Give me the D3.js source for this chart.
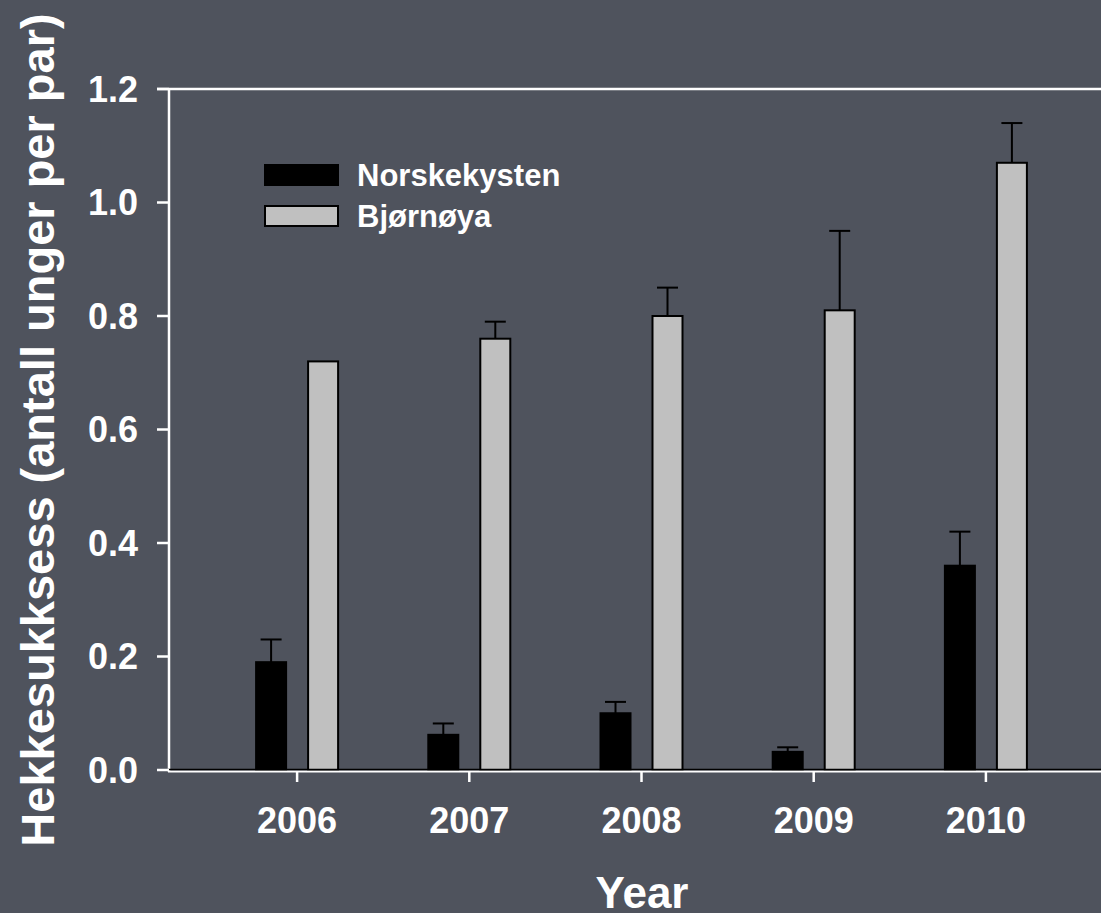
<!DOCTYPE html>
<html>
<head>
<meta charset="utf-8">
<script src="https://cdn.jsdelivr.net/npm/d3@7"></script>
<style>
  html, body { margin: 0; padding: 0; background: #4f535d; }
  svg { display: block; font-family: "Liberation Sans", Arial, sans-serif; font-weight: bold; }
</style>
</head>
<body>
<svg id="chart" width="1101" height="913"></svg>
<script>
var years = ["2006", "2007", "2008", "2009", "2010"];
var seriesNames = ["Norskekysten", "Bjørnøya"];
var norskekysten = [0.19, 0.062, 0.10, 0.032, 0.36];
var norskekystenErr = [0.04, 0.02, 0.02, 0.008, 0.06];
var bjornoya = [0.72, 0.76, 0.80, 0.81, 1.07];
var bjornoyaErr = [0, 0.03, 0.05, 0.14, 0.07];
var yTicks = [0, 0.2, 0.4, 0.6, 0.8, 1.0, 1.2];
var fills = ["#000000", "#c0c0c0"];

var svg = d3.select("#chart");
var W = 1101, H = 913;

var x = d3.scaleBand().domain(years).range([211, 1072]).padding(0);
var xInner = d3.scaleBand().domain(seriesNames).range([-42, 42]).paddingInner(20 / 52).paddingOuter(0);
var y = d3.scaleLinear().domain([0, 1.2]).range([770, 89]);

var rows = [];
years.forEach(function (yr, i) {
  rows.push({ year: yr, s: seriesNames[0], v: norskekysten[i], e: norskekystenErr[i], fill: fills[0] });
  rows.push({ year: yr, s: seriesNames[1], v: bjornoya[i], e: bjornoyaErr[i], fill: fills[1] });
});

function cx(d) { return x(d.year) + x.bandwidth() / 2 + xInner(d.s) + xInner.bandwidth() / 2; }

// error bars (upper only)
var eb = svg.append("g").attr("stroke", "#000").attr("stroke-width", 2);
rows.filter(function (d) { return d.e > 0; }).forEach(function (d) {
  eb.append("line").attr("x1", cx(d)).attr("x2", cx(d)).attr("y1", y(d.v)).attr("y2", y(d.v + d.e));
  eb.append("line").attr("x1", cx(d) - 10.5).attr("x2", cx(d) + 10.5).attr("y1", y(d.v + d.e)).attr("y2", y(d.v + d.e));
});

// bars
svg.append("g").selectAll("rect").data(rows).join("rect")
  .attr("x", function (d) { return cx(d) - xInner.bandwidth() / 2 + 1; })
  .attr("width", xInner.bandwidth() - 2)
  .attr("y", function (d) { return y(d.v); })
  .attr("height", function (d) { return y(0) - y(d.v); })
  .attr("fill", function (d) { return d.fill; })
  .attr("stroke", "#000").attr("stroke-width", 2);

// axes frame
svg.append("line").attr("x1", 157).attr("x2", W).attr("y1", y(1.2)).attr("y2", y(1.2))
  .attr("stroke", "#fff").attr("stroke-width", 2.5);
svg.append("line").attr("x1", 169).attr("x2", 169).attr("y1", y(1.2)).attr("y2", 772)
  .attr("stroke", "#fff").attr("stroke-width", 2.5);
svg.append("line").attr("x1", 168).attr("x2", W).attr("y1", 771.5).attr("y2", 771.5)
  .attr("stroke", "#fff").attr("stroke-width", 2);
svg.append("line").attr("x1", 168).attr("x2", W).attr("y1", 769.5).attr("y2", 769.5)
  .attr("stroke", "#000").attr("stroke-width", 1.5);

// y axis ticks + labels
var yg = svg.append("g");
yTicks.forEach(function (t) {
  yg.append("line").attr("x1", 157).attr("x2", 169).attr("y1", y(t)).attr("y2", y(t))
    .attr("stroke", "#fff").attr("stroke-width", 2.5);
  yg.append("text").attr("x", 138).attr("y", y(t)).attr("dy", "0.36em")
    .attr("text-anchor", "end").attr("fill", "#fff").attr("font-size", 36)
    .text(d3.format(".1f")(t));
});

// x axis ticks + labels
var xg = svg.append("g");
years.forEach(function (yr) {
  var px = x(yr) + x.bandwidth() / 2;
  xg.append("line").attr("x1", px).attr("x2", px).attr("y1", 771).attr("y2", 782)
    .attr("stroke", "#fff").attr("stroke-width", 2.5);
  xg.append("text").attr("x", px).attr("y", 833).attr("text-anchor", "middle")
    .attr("fill", "#fff").attr("font-size", 36).text(yr);
});

// axis titles
svg.append("text").attr("x", 642).attr("y", 908).attr("text-anchor", "middle")
  .attr("fill", "#fff").attr("font-size", 44).text("Year");
svg.append("text").attr("transform", "translate(54,430) rotate(-90)")
  .attr("text-anchor", "middle").attr("fill", "#fff").attr("font-size", 47)
  .text("Hekkesukksess (antall unger per par)");

// legend
var lg = svg.append("g");
seriesNames.forEach(function (s, i) {
  var ly = 165 + i * 41;
  lg.append("rect").attr("x", 265).attr("y", ly).attr("width", 73).attr("height", 20)
    .attr("fill", fills[i]).attr("stroke", "#000").attr("stroke-width", 2);
  lg.append("text").attr("x", 357).attr("y", ly + 10).attr("dy", "0.36em")
    .attr("fill", "#fff").attr("font-size", 31).text(s);
});
</script>
</body>
</html>
